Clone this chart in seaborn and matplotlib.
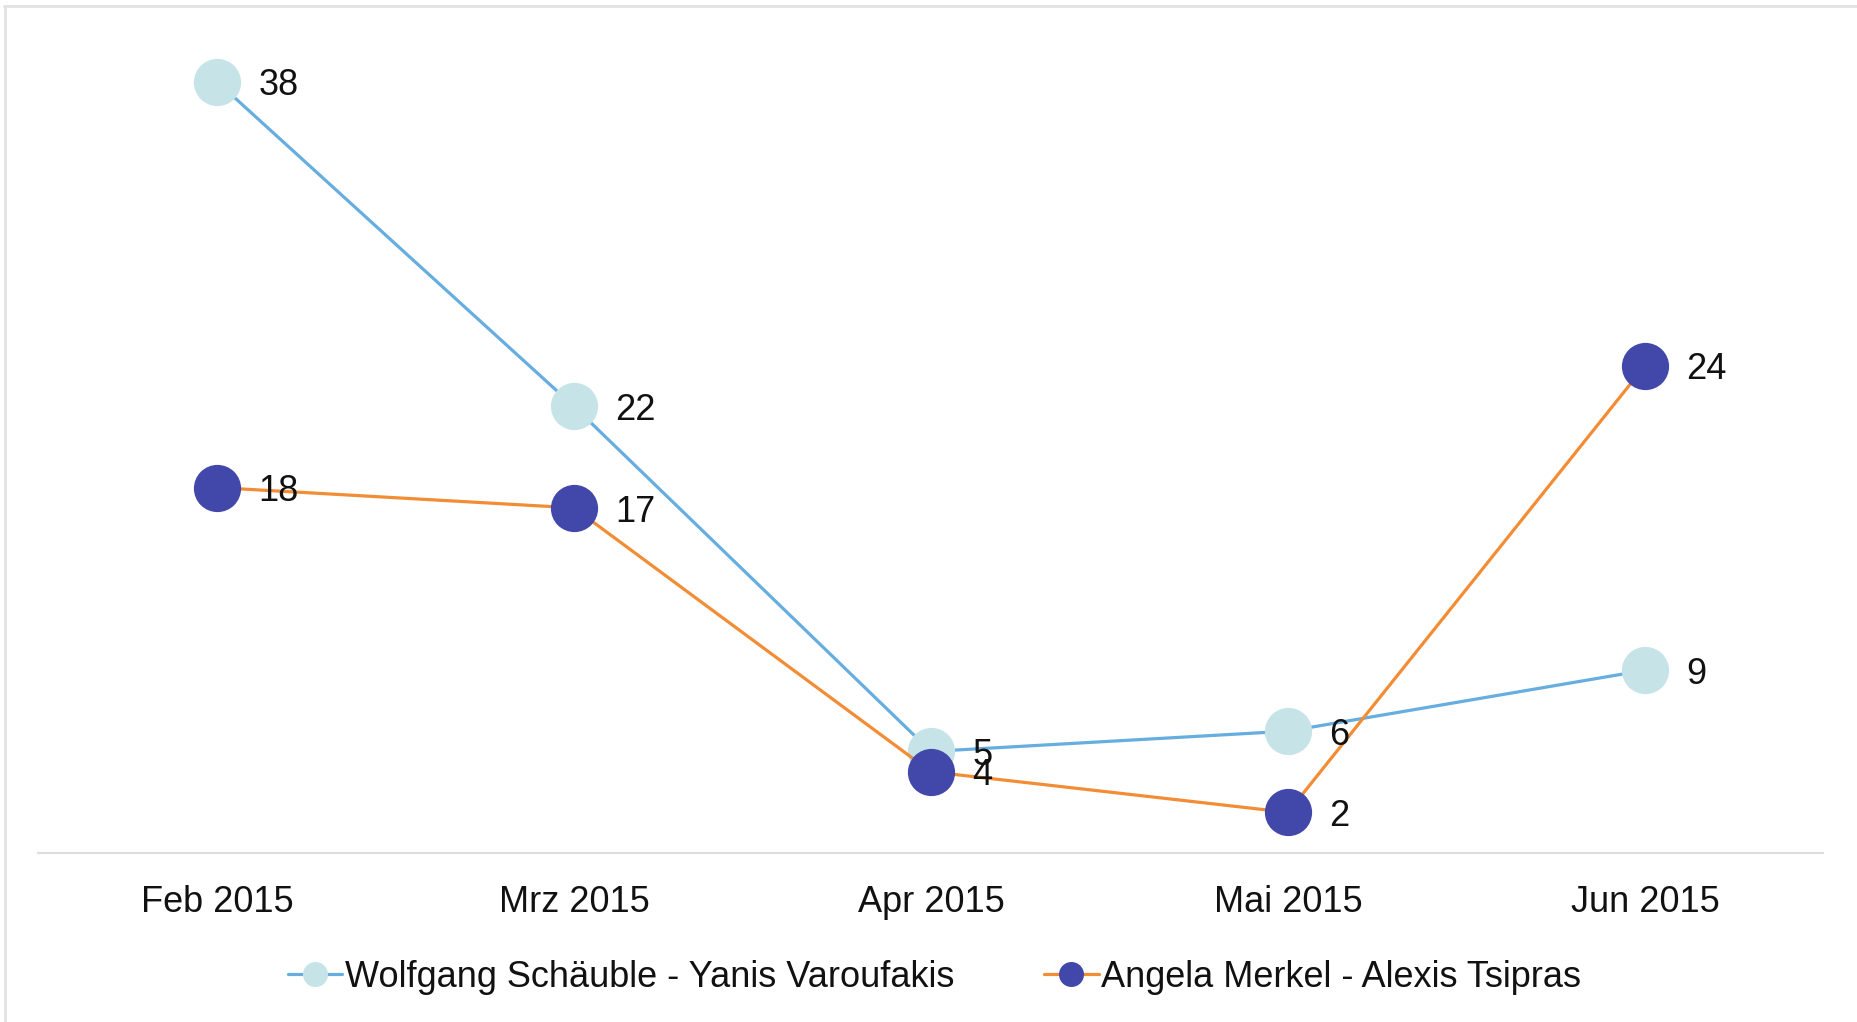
import matplotlib
matplotlib.use("Agg")
import matplotlib.pyplot as plt
from matplotlib.lines import Line2D
import seaborn as sns
import pandas as pd

# data
months = ["Feb 2015", "Mrz 2015", "Apr 2015", "Mai 2015", "Jun 2015"]
schaeuble = [38, 22, 5, 6, 9]
merkel = [18, 17, 4, 2, 24]
series_names = ["Wolfgang Schäuble - Yanis Varoufakis", "Angela Merkel - Alexis Tsipras"]

line_colors = ["#66ade0", "#f28c35"]
marker_colors = ["#c6e4e7", "#4248a9"]

sns.set_theme(style="white")
plt.rcParams["font.family"] = ["Liberation Sans", "DejaVu Sans"]

fig = plt.figure(figsize=(18.58, 10.22), dpi=100)
ax = fig.add_axes([0.0207, 0.1654, 0.9607, 0.7945])

x = list(range(len(months)))
for i, (name, vals) in enumerate(zip(series_names, [schaeuble, merkel])):
    df = pd.DataFrame({"x": x, "y": vals})
    sns.lineplot(data=df, x="x", y="y", ax=ax, color=line_colors[i],
                 linewidth=2.3, marker="o", markersize=34,
                 markerfacecolor=marker_colors[i], markeredgewidth=0,
                 zorder=2 + i)

# value labels
for vals in [schaeuble, merkel]:
    for xi, v in zip(x, vals):
        ax.annotate(str(v), (xi, v), xytext=(30, -3), textcoords="offset points",
                    ha="left", va="center", fontsize=26, color="#111111", zorder=10)

ax.set_xlim(-0.5, 4.5)
ax.set_ylim(0, 40)
ax.set_xticks(x)
ax.set_xticklabels(months, fontsize=26, color="#111111")
ax.set_yticks([])
ax.set_xlabel("")
ax.set_ylabel("")
ax.tick_params(axis="x", length=0, pad=23)
for side in ["top", "right", "left"]:
    ax.spines[side].set_visible(False)
ax.spines["bottom"].set_color("#dddddd")
ax.spines["bottom"].set_linewidth(1.5)

# legend
handles = [Line2D([0], [0], color=line_colors[i], linewidth=2.3, marker="o",
                  markersize=18, markerfacecolor=marker_colors[i], markeredgewidth=0)
           for i in range(2)]
fig.legend(handles, series_names, loc="center", bbox_to_anchor=(0.503, 0.044),
           ncol=2, frameon=False, fontsize=26, handlelength=1.5,
           handletextpad=0.08, columnspacing=2.5, labelcolor="#111111")

# frame border at top and left
fig.add_artist(Line2D([0.002, 1.0], [0.9945, 0.9945], color="#e2e2e2", linewidth=2))
fig.add_artist(Line2D([0.0025, 0.0025], [0.0, 0.9945], color="#e2e2e2", linewidth=2))

plt.savefig("out.png", dpi=100)
plt.close(fig)
